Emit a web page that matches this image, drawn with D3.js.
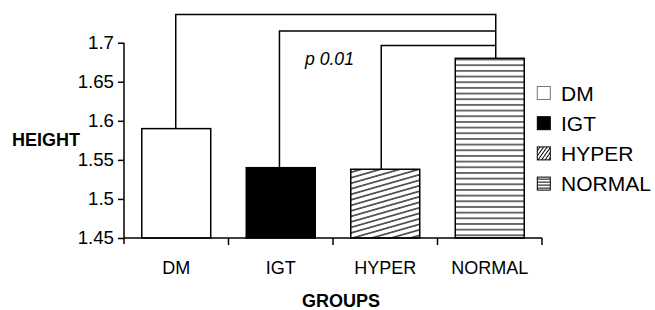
<!DOCTYPE html>
<html>
<head>
<meta charset="utf-8">
<script src="https://cdn.jsdelivr.net/npm/d3@7"></script>
<style>
  html, body { margin: 0; padding: 0; background: #fff; }
  svg { display: block; font-family: Arial, "Liberation Sans", sans-serif; }
</style>
</head>
<body>
<svg id="chart" width="655" height="310"></svg>
<script>
// ---- data ----
const categories = ["DM", "IGT", "HYPER", "NORMAL"];
const values = [1.59, 1.54, 1.538, 1.68];
const yTicks = [1.45, 1.5, 1.55, 1.6, 1.65, 1.7];
const yDomain = [1.45, 1.7];
const comparisons = [["DM", "NORMAL"], ["IGT", "NORMAL"], ["HYPER", "NORMAL"]];
const pLabel = "p 0.01";
const yTitle = "HEIGHT";
const xTitle = "GROUPS";

// ---- layout ----
const svg = d3.select("#chart");
const x = d3.scaleBand().domain(categories).range([124, 542]).paddingInner(0.34).paddingOuter(0.17);
const y = d3.scaleLinear().domain(yDomain).range([238, 42.7]);
const fills = {DM: "#fff", IGT: "#000", HYPER: "url(#hatch)", NORMAL: "url(#hstripe)"};
const legendFills = {DM: "#fff", IGT: "#000", HYPER: "url(#hatchSmall)", NORMAL: "url(#hstripeSmall)"};

const defs = svg.append("defs");
function hatch(id, h, angle, sw, color) {
  const p = defs.append("pattern").attr("id", id).attr("patternUnits", "userSpaceOnUse")
    .attr("width", 20).attr("height", h).attr("patternTransform", `rotate(${angle})`);
  p.append("rect").attr("width", 20).attr("height", h).attr("fill", "#fff");
  p.append("line").attr("x1", 0).attr("x2", 20).attr("y1", h / 2).attr("y2", h / 2)
    .attr("stroke", color).attr("stroke-width", sw);
}
hatch("hatch", 5.3, -16, 1.2, "#000");
hatch("hstripe", 5.67, 0, 1.3, "#222");
hatch("hatchSmall", 2.9, -55, 1, "#000");
hatch("hstripeSmall", 3, 0, 1, "#000");

// bars
svg.append("g").selectAll("rect").data(categories).join("rect")
  .attr("x", d => x(d))
  .attr("width", x.bandwidth())
  .attr("y", (d, i) => y(values[i]))
  .attr("height", (d, i) => y(yDomain[0]) - y(values[i]))
  .attr("fill", d => fills[d])
  .attr("stroke", "#000").attr("stroke-width", 1.5);

// y axis
const yAxis = svg.append("g").attr("transform", "translate(124,0)")
  .call(d3.axisLeft(y).tickValues(yTicks).tickSize(6).tickPadding(4).tickFormat(d3.format("")));
yAxis.select(".domain").attr("d", `M0,${y(1.7)}V${y(1.45) + 6}`);
yAxis.selectAll("line, path").attr("stroke", "#000").attr("stroke-width", 1.5);
yAxis.selectAll("text").attr("font-size", 18.7).attr("fill", "#000").attr("font-family", null);

// x axis
const xg = svg.append("g");
xg.append("line").attr("x1", 124).attr("x2", 542).attr("y1", y(1.45)).attr("y2", y(1.45))
  .attr("stroke", "#000").attr("stroke-width", 1.5);
const bounds = categories.map(c => x(c) - x.step() * x.paddingInner() / 2).concat([542]);
xg.selectAll("line.tk").data(bounds.slice(1)).join("line").attr("class", "tk")
  .attr("x1", d => d).attr("x2", d => d).attr("y1", y(1.45)).attr("y2", y(1.45) + 7)
  .attr("stroke", "#000").attr("stroke-width", 1.5);
xg.selectAll("text").data(categories).join("text")
  .attr("x", d => x(d) + x.bandwidth() / 2).attr("y", 273.5)
  .attr("text-anchor", "middle").attr("font-size", 18).text(d => d);

// titles
svg.append("text").attr("x", 12).attr("y", 146).attr("font-size", 18).attr("font-weight", "bold").text(yTitle);
svg.append("text").attr("x", 341).attr("y", 306.5).attr("text-anchor", "middle")
  .attr("font-size", 18).attr("font-weight", "bold").text(xTitle);

// brackets
const bracketLevels = [14.5, 31, 45.5];
const leftOffsets = [-0.5, -1.3, -4];
const rightX = x("NORMAL") + x.bandwidth() / 2 + 6;
const bg = svg.append("g").attr("fill", "none").attr("stroke", "#000").attr("stroke-width", 1.5);
comparisons.forEach((c, i) => {
  const li = categories.indexOf(c[0]);
  const lx = x(c[0]) + x.bandwidth() / 2 + leftOffsets[i];
  bg.append("path").attr("d", `M${lx},${y(values[li])}V${bracketLevels[i]}H${rightX}`);
});
bg.append("path").attr("d", `M${rightX},${bracketLevels[0] - 0.75}V${y(values[3])}`);
svg.append("text").attr("x", 305).attr("y", 64.5).attr("font-size", 17.6)
  .attr("font-style", "italic").text(pLabel);

// legend
const lg = svg.append("g");
const rows = lg.selectAll("g").data(categories).join("g")
  .attr("transform", (d, i) => `translate(537.3,${93 + i * 30.2})`);
rows.append("rect").attr("x", 0).attr("y", -6.5).attr("width", 13).attr("height", 13)
  .attr("fill", d => legendFills[d])
  .attr("stroke", d => d === "DM" ? "#777" : "#000").attr("stroke-width", 1);
rows.append("text").attr("x", 23.7).attr("y", 7.5).attr("font-size", 21).text(d => d);
</script>
</body>
</html>
